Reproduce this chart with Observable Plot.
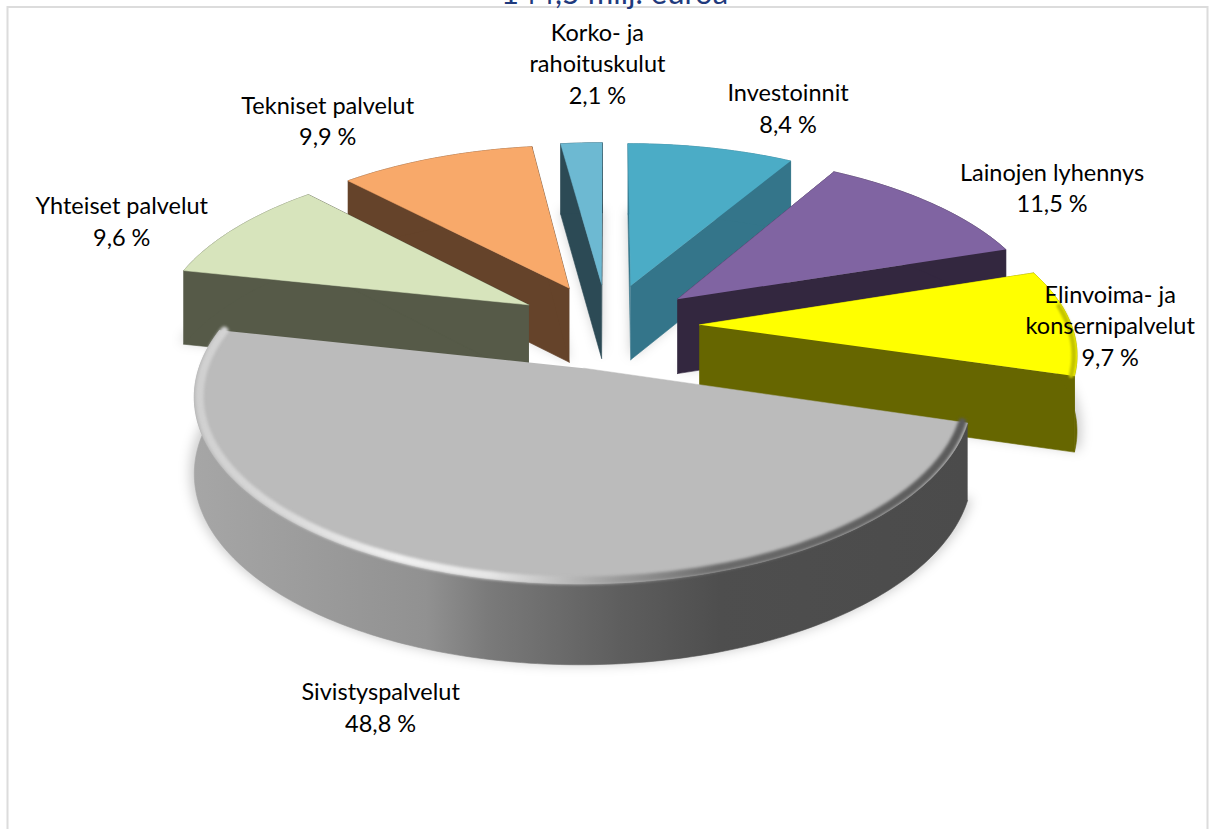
<!DOCTYPE html>
<html>
<head>
<meta charset="utf-8">
<style>html,body{margin:0;padding:0;background:#fff;overflow:hidden}svg{display:block}</style>
<script src="https://cdn.jsdelivr.net/npm/d3@7"></script>
<script src="https://cdn.jsdelivr.net/npm/@observablehq/plot@0.6"></script>
</head>
<body>
<div id="chart"></div>
<script>
// ---- data ----
const chartTitle = "144,5 milj. euroa";
const categories = ["Investoinnit","Lainojen lyhennys","Elinvoima- ja konsernipalvelut","Sivistyspalvelut","Yhteiset palvelut","Tekniset palvelut","Korko- ja rahoituskulut"];
const shares = [8.4, 11.5, 9.7, 48.8, 9.6, 9.9, 2.1];
const nameLines = [["Investoinnit"],["Lainojen lyhennys"],["Elinvoima- ja","konsernipalvelut"],["Sivistyspalvelut"],["Yhteiset palvelut"],["Tekniset palvelut"],["Korko- ja","rahoituskulut"]];
const topColors = ["#4BACC6","#8064A2","#FFFF00","#BBBBBB","#D7E4BC","#F8A96A","#6DB9D2"];
const wallColors = ["#34758A","#33273F","#666600","url(#wallGrey)","#565A48","#65432A","#2C4A55"];
const paintOrder = [6,0,5,1,4,2,3];

// ---- view geometry of the tilted, exploded pie ----
const W = 1209, H = 829;
const cx = 607, cy = 325, R = 372, explode = 92, tilt = 0.463, persp = 0.14, depth = 75;
const labelNudge = [[77,-41],[120,-17],[40,2],[-88,130],[-114,-8],[-108,-38.5],[16,-81]];

const rad = d => d * Math.PI / 180;
const total = d3.sum(shares);
let run = 0;
const slices = shares.map((v, i) => {
  const a0 = run / total * 360; run += v; const a1 = run / total * 360;
  return {i, a0, a1, mid: (a0 + a1) / 2};
});
function project(s, r, a) {
  const m = rad(s.mid), t = rad(a);
  const wx = explode * Math.sin(m) + r * Math.sin(t);
  const wz = explode * Math.cos(m) + r * Math.cos(t);
  const k = 1 / (1 + persp * wz / R);
  return {x: cx + wx * k, y: cy - tilt * wz * k, drop: depth * Math.pow(k, 0.4)};
}
function arc(s, r, from = s.a0, to = s.a1) {
  const n = Math.max(2, Math.ceil(to - from));
  return d3.range(n + 1).map(j => project(s, r, from + (to - from) * j / n));
}
const down = (p, f = 1) => ({x: p.x, y: p.y + p.drop * f});
const tipOf = s => project(s, 0, s.mid);

const shadowMarks = slices.map(s => {
  const pts = [tipOf(s), ...arc(s, R + 4)].map(p => down(p, 0.97));
  return Plot.line(pts, {x:"x", y:"y", fill:"#000", fillOpacity:0.2, stroke:"none", imageFilter:"blur(6px)"});
});

const sliceMarks = paintOrder.flatMap(i => {
  const s = slices[i], tip = tipOf(s), a = arc(s, R), fill = wallColors[i];
  const wall = pts => Plot.line(pts, {x:"x", y:"y", fill, stroke:fill, strokeWidth:0.6});
  const marks = [];
  if (i !== 3) {
    [a[0], a[a.length - 1]].forEach(e => marks.push(wall([tip, e, down(e), down(tip)])));
  }
  marks.push(wall([...a, ...a.slice().reverse().map(p => down(p))]));
  marks.push(Plot.line([tip, ...a], {x:"x", y:"y", fill:topColors[i], stroke:topColors[i], strokeWidth:0.5}));
  if (i === 3) marks.push(Plot.line(arc(s, R - 5), {x:"x", y:"y", stroke:"url(#rimGrey)", strokeWidth:8, imageFilter:"blur(1.6px)"}));
  if (i === 2) marks.push(Plot.line(arc(s, R - 3, s.a0 + 12, s.a1), {x:"x", y:"y", stroke:"#C4C400", strokeWidth:5, imageFilter:"blur(1.2px)"}));
  return marks;
});

const labelMarks = slices.map(s => {
  const m = project(s, R, s.mid), [dx, dy] = labelNudge[s.i];
  const text = [...nameLines[s.i], shares[s.i].toFixed(1).replace(".", ",") + " %"].join("\n");
  return Plot.text([{x: m.x, y: m.y, text}], {x:"x", y:"y", text:"text", dx, dy, fontSize:23.5, lineHeight:1.34, fill:"#000", fontFamily:"Lato, Carlito, sans-serif", textAnchor:"middle"});
});

function gradient(defs, id, stops) {
  const g = defs.append("linearGradient").attr("id", id);
  stops.forEach(([o, c]) => g.append("stop").attr("offset", o).attr("stop-color", c));
}
const defsMark = () => {
  const defs = d3.create("svg:defs");
  gradient(defs, "wallGrey", [[0,"#A6A6A6"],[0.3,"#919191"],[0.38,"#7A7A7A"],[0.55,"#5E5E5E"],[0.68,"#4E4E4E"],[1,"#4B4B4B"]]);
  gradient(defs, "rimGrey", [[0,"#D0D0D0"],[0.12,"#DADADA"],[0.26,"#F0F0F0"],[0.38,"#E6E6E6"],[0.47,"#BFBFBF"],[0.55,"#9A9A9A"],[0.68,"#6A6A6A"],[1,"#5A5A5A"]]);
  return defs.node();
};

const chart = Plot.plot({
  width: W, height: H, margin: 0,
  x: {domain:[0, W], range:[0, W], axis:null},
  y: {domain:[0, H], range:[0, H], axis:null},
  style: {background:"#fff"},
  marks: [
    defsMark,
    Plot.ruleX([7, 1207], {y1:6, y2:H, stroke:"#DCDCDC", strokeWidth:2}),
    Plot.ruleY([6.5], {x1:7, x2:1207, stroke:"#DCDCDC", strokeWidth:2}),
    Plot.text([chartTitle], {x:()=>614, y:()=>3, text:d=>d, fontSize:31, fill:"#1F3A7D", fontFamily:"Lato, Carlito, sans-serif", lineAnchor:"bottom", textAnchor:"middle"}),
    ...shadowMarks,
    ...sliceMarks,
    ...labelMarks
  ]
});
document.getElementById("chart").append(chart);
</script>
</body>
</html>
